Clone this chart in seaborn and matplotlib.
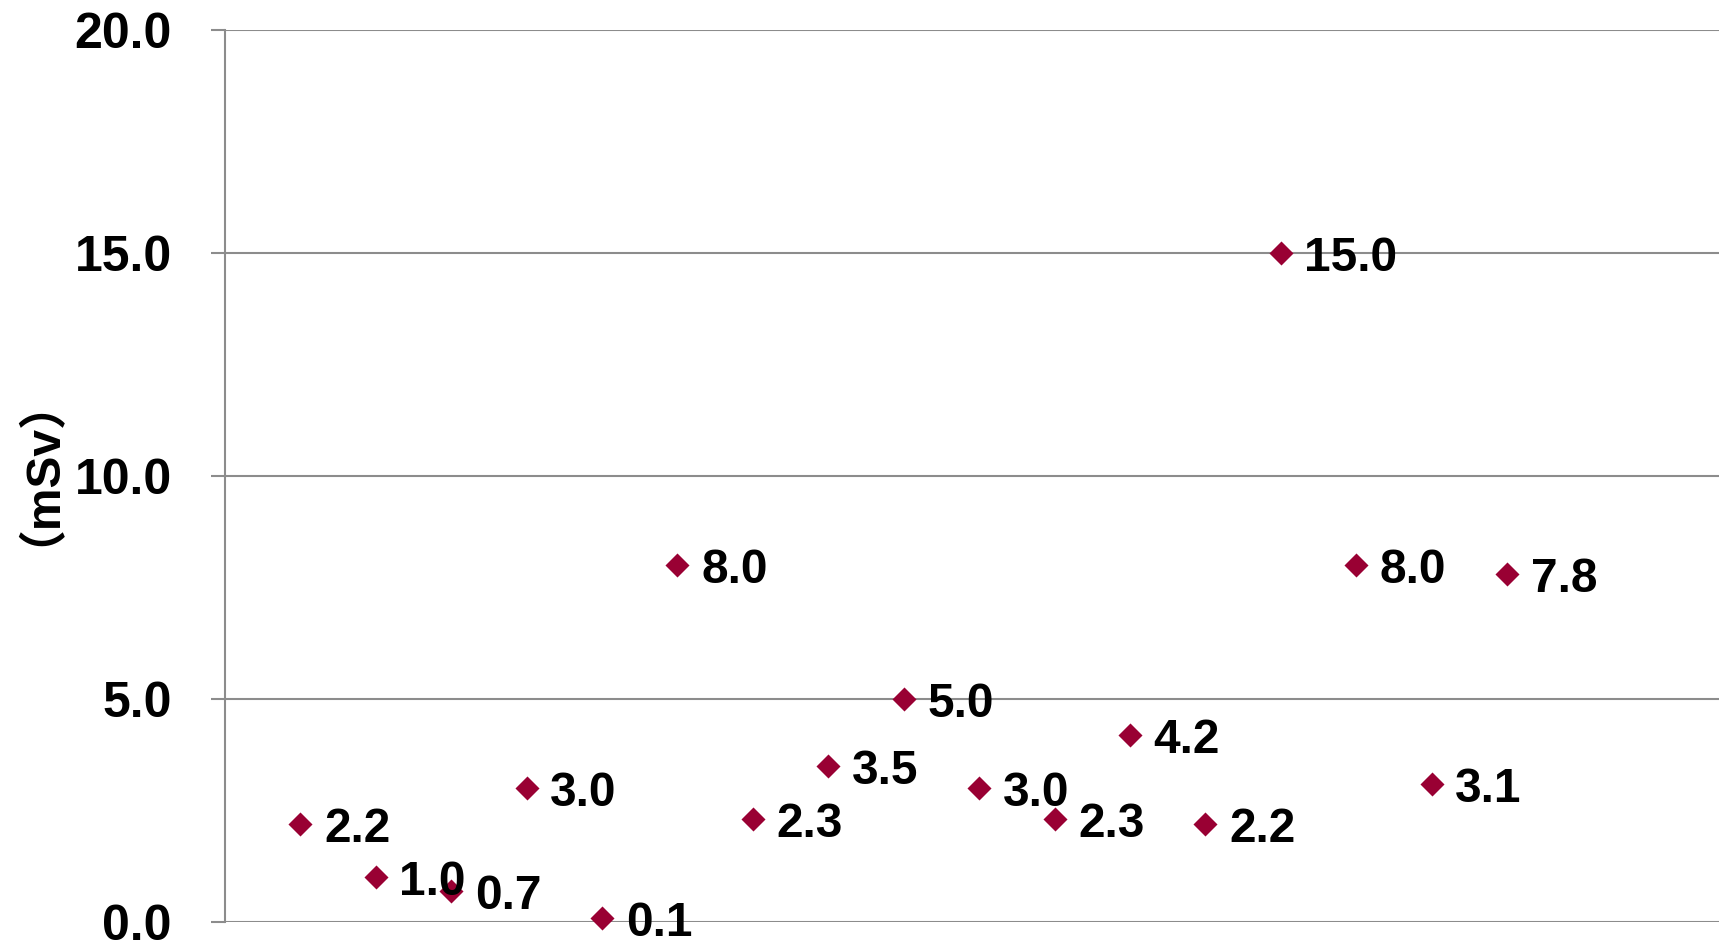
import matplotlib
matplotlib.use("Agg")
import matplotlib.pyplot as plt
import seaborn as sns
import pandas as pd
from matplotlib.ticker import FormatStrFormatter

# Dose per item (mSv), in order along the horizontal axis
positions = list(range(1, 18))
doses = [2.2, 1.0, 0.7, 3.0, 0.1, 8.0, 2.3, 3.5, 5.0, 3.0, 2.3, 4.2, 2.2, 15.0, 8.0, 3.1, 7.8]
y_ticks = [0, 5, 10, 15, 20]
y_label = "（mSv）"

sns.set_theme(style="white")
plt.rcParams["font.family"] = ["Liberation Sans", "Noto Sans CJK JP", "DejaVu Sans"]
plt.rcParams["font.weight"] = "bold"
plt.rcParams["text.color"] = "black"
plt.rcParams["axes.labelcolor"] = "black"
plt.rcParams["ytick.labelcolor"] = "black"

marker_color = "#990033"
grid_color = "#8c8c8c"
font_size = 34.5
tick_font_size = 36

df = pd.DataFrame({"pos": positions, "dose": doses})

fig = plt.figure(figsize=(17.19, 9.44), dpi=100)
ax = fig.add_axes([225 / 1719, 1 - 922 / 944, 1 - 225 / 1719, (922 - 30) / 944])

sns.scatterplot(data=df, x="pos", y="dose", marker="D", color=marker_color,
                s=150, linewidth=0, ax=ax, clip_on=False, zorder=3)

for x, y in zip(positions, doses):
    ax.annotate(f"{y:.1f}", (x, y), xytext=(17, -4), textcoords="offset points",
                ha="left", va="center", fontsize=font_size, fontweight="bold",
                color="black", annotation_clip=False, zorder=4)

ax.set_xlim(0, 19.81)
ax.set_ylim(0, 20)
ax.set_yticks(y_ticks)
ax.yaxis.set_major_formatter(FormatStrFormatter("%.1f"))
ax.set_xticks([])
ax.set_xlabel("")
ax.set_ylabel(y_label, fontsize=font_size, fontweight="bold", color="black")
ax.yaxis.set_label_coords((39.5 - 225) / 1494, 0.532)

ax.yaxis.grid(True, color=grid_color, linewidth=1.5)
ax.set_axisbelow(True)
for side in ["top", "right", "bottom"]:
    ax.spines[side].set_visible(False)
ax.spines["left"].set_color(grid_color)
ax.spines["left"].set_linewidth(1.5)
ax.tick_params(axis="y", which="major", left=True, length=10, width=1.5,
               color=grid_color, pad=28.5, labelsize=tick_font_size, labelcolor="black")
for lbl in ax.get_yticklabels():
    lbl.set_fontweight("bold")

fig.savefig("out.png", dpi=100)
